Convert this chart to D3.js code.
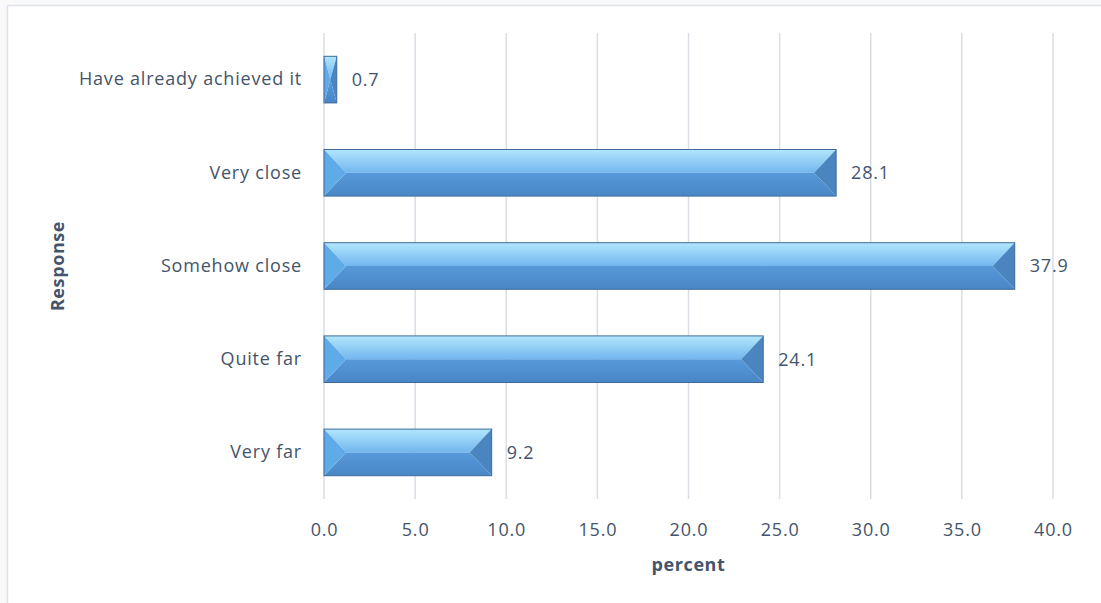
<!DOCTYPE html>
<html>
<head>
<meta charset="utf-8">
<script src="https://cdn.jsdelivr.net/npm/d3@7"></script>
<style>
  html, body { margin: 0; padding: 0; background: #f9f9fa; }
  svg { display: block; }
</style>
</head>
<body>
<svg id="chart" width="1101" height="603"></svg>
<script>
// Responses, top to bottom, with their share in percent
const categories = ["Have already achieved it", "Very close", "Somehow close", "Quite far", "Very far"];
const values = [0.7, 28.1, 37.9, 24.1, 9.2];
const xTicks = [0, 5, 10, 15, 20, 25, 30, 35, 40];

const svg = d3.select("#chart");
const W = 1101, H = 603;
const margin = { left: 324, right: 48, top: 33, bottom: 104 };
const font = "'Open Sans', 'Noto Sans', sans-serif";
const textColor = "#44546a";
const labelSize = 18, labelSpacing = "0.8px";

// chart frame
svg.append("rect").attr("x", 7.5).attr("y", 5.5).attr("width", W).attr("height", H)
  .attr("fill", "#ffffff").attr("stroke", "#dfe4ec").attr("stroke-width", 1.5);

const x = d3.scaleLinear().domain([0, 40]).range([margin.left, W - margin.right]);
const y = d3.scaleBand().domain(categories).range([margin.top, H - margin.bottom]).paddingInner(0.5).paddingOuter(0.25);

// vertical gridlines
svg.append("g").selectAll("line").data(xTicks).join("line")
  .attr("x1", d => x(d)).attr("x2", d => x(d))
  .attr("y1", margin.top).attr("y2", H - margin.bottom)
  .attr("stroke", "#d9dde4").attr("stroke-width", 1.5);

// tick labels
const xAxis = d3.axisBottom(x).tickValues(xTicks).tickFormat(d3.format(".1f")).tickSize(0).tickPadding(24);
const gx = svg.append("g").attr("transform", `translate(0,${H - margin.bottom})`).call(xAxis);
gx.select(".domain").remove();
gx.selectAll("text").attr("font-family", font).attr("font-size", labelSize)
  .attr("letter-spacing", labelSpacing).attr("fill", textColor);

const yAxis = d3.axisLeft(y).tickSize(0).tickPadding(22);
const gy = svg.append("g").attr("transform", `translate(${margin.left},0)`).call(yAxis);
gy.select(".domain").remove();
gy.selectAll("text").attr("font-family", font).attr("font-size", labelSize)
  .attr("letter-spacing", labelSpacing).attr("fill", textColor);

// gradients for the bevelled bar faces
const defs = svg.append("defs");
const topGrad = defs.append("linearGradient").attr("id", "topFace").attr("x1", 0).attr("y1", 0).attr("x2", 0).attr("y2", 1);
topGrad.append("stop").attr("offset", "0%").attr("stop-color", "#b2e6fd");
topGrad.append("stop").attr("offset", "100%").attr("stop-color", "#72b6ee");
const botGrad = defs.append("linearGradient").attr("id", "bottomFace").attr("x1", 0).attr("y1", 0).attr("x2", 0).attr("y2", 1);
botGrad.append("stop").attr("offset", "0%").attr("stop-color", "#5799da");
botGrad.append("stop").attr("offset", "100%").attr("stop-color", "#4986c6");

const bars = svg.append("g").selectAll("g").data(categories.map((c, i) => ({ c, v: values[i] }))).join("g");

bars.each(function(d) {
  const g = d3.select(this);
  const x0 = x(0), x1 = x(d.v);
  const y0 = y(d.c), y1 = y(d.c) + y.bandwidth(), ym = (y0 + y1) / 2;
  const b = Math.min(y.bandwidth() / 2, 22, (x1 - x0) / 2);
  const pts = p => p.map(q => q.join(",")).join(" ");
  g.append("polygon").attr("points", pts([[x0, y0], [x1, y0], [x1 - b, ym], [x0 + b, ym]])).attr("fill", "url(#topFace)");
  g.append("polygon").attr("points", pts([[x0, y1], [x1, y1], [x1 - b, ym], [x0 + b, ym]])).attr("fill", "url(#bottomFace)");
  g.append("polygon").attr("points", pts([[x0, y0], [x0 + b, ym], [x0, y1]])).attr("fill", "#5fabe8");
  g.append("polygon").attr("points", pts([[x1, y0], [x1 - b, ym], [x1, y1]])).attr("fill", "#4a85bf");
  g.append("rect").attr("x", x0).attr("y", y0).attr("width", x1 - x0).attr("height", y1 - y0)
    .attr("fill", "none").attr("stroke", "#3e6b99").attr("stroke-width", 1);
  g.append("text").attr("x", x1 + 15).attr("y", ym).attr("dy", "0.35em")
    .attr("font-family", font).attr("font-size", labelSize).attr("letter-spacing", labelSpacing)
    .attr("fill", textColor)
    .text(d3.format(".1f")(d.v));
});

// axis titles
svg.append("text").attr("x", (x(0) + x(40)) / 2).attr("y", 571).attr("text-anchor", "middle")
  .attr("font-family", font).attr("font-size", 18).attr("letter-spacing", "0.6px")
  .attr("font-weight", "bold").attr("fill", textColor).text("percent");
svg.append("text").attr("transform", `translate(64,${(margin.top + H - margin.bottom) / 2}) rotate(-90)`)
  .attr("text-anchor", "middle")
  .attr("font-family", font).attr("font-size", 18).attr("letter-spacing", "0.6px")
  .attr("font-weight", "bold").attr("fill", textColor).text("Response");
</script>
</body>
</html>
